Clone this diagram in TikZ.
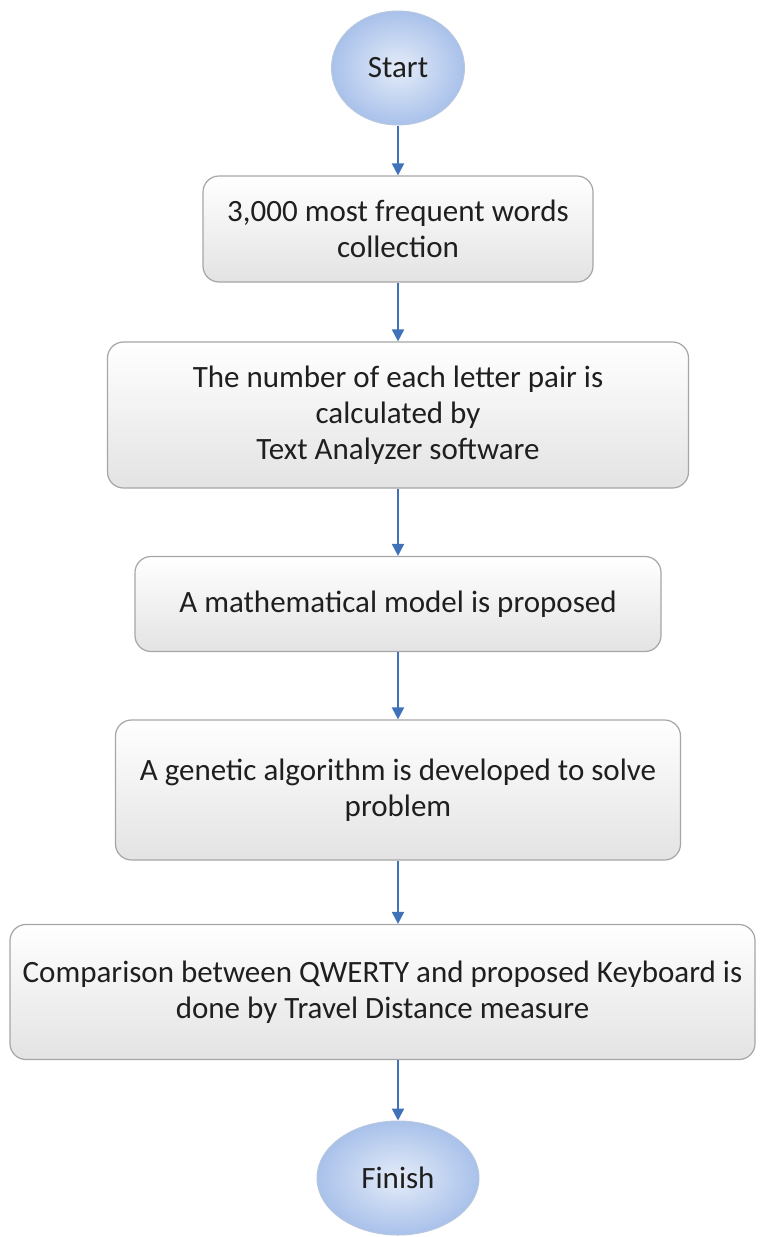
\documentclass[tikz,border=0pt]{standalone}
\usepackage{fontspec}
\setmainfont{Carlito}
\usetikzlibrary{shapes.geometric,arrows.meta,calc}
\definecolor{flowblue}{HTML}{3F72B8}
\definecolor{boxedge}{HTML}{A6A6A6}
\definecolor{ovaledge}{HTML}{B7C7E0}
\definecolor{ovalin}{HTML}{E4ECF9}
\definecolor{ovalout}{HTML}{A9C1EA}
\begin{document}
\begin{tikzpicture}[x=1pt,y=-1pt,
  every node/.style={font=\fontsize{31}{36}\selectfont, text=black!88, align=center},
  procbox/.style={draw=boxedge, line width=1.2pt, rounded corners=16pt,
    top color=white, bottom color=black!11, inner sep=0pt},
  terminal/.style={ellipse, draw=ovaledge, line width=1pt, inner sep=0pt,
    inner color=ovalin, outer color=ovalout},
  flow/.style={-{Triangle[length=12pt,width=12pt]}, draw=flowblue, line width=2pt}]
\useasboundingbox (0,0) rectangle (768,1237);
\fill[white] (0,0) rectangle (768,1237);

\node[terminal, minimum width=133pt, minimum height=114pt] (start) at (398,68) {Start};
\node[procbox, minimum width=390pt, minimum height=106pt] (collect) at (398,229)
  {3,000 most frequent words\\collection};
\node[procbox, minimum width=581pt, minimum height=146pt] (pairs) at (398,415)
  {The number of each letter pair is\\calculated by\\Text Analyzer software};
\node[procbox, minimum width=526pt, minimum height=95pt] (model) at (398,604)
  {A mathematical model is proposed};
\node[procbox, minimum width=565pt, minimum height=140pt] (genetic) at (398,790)
  {A genetic algorithm is developed to solve\\problem};
\node[procbox, minimum width=745pt, minimum height=135pt] (compare) at (382.5,992)
  {Comparison between QWERTY and proposed Keyboard is\\done by Travel Distance measure};
\node[terminal, minimum width=162pt, minimum height=114pt] (finish) at (398,1178) {Finish};

\draw[flow] (start.south) -- (collect.north);
\draw[flow] (collect.south) -- (pairs.north);
\draw[flow] (pairs.south) -- (model.north);
\draw[flow] (model.south) -- (genetic.north);
\draw[flow] (genetic.south) -- (genetic.south |- compare.north);
\draw[flow] (compare.south -| finish.north) -- (finish.north);
\end{tikzpicture}
\end{document}
